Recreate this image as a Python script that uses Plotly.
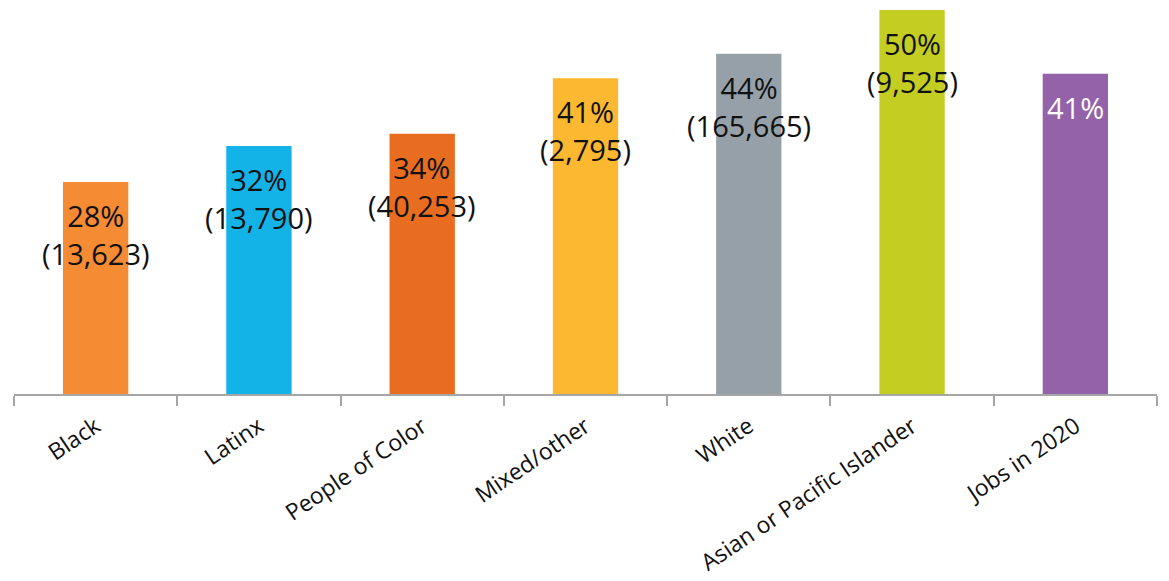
import plotly.graph_objects as go

categories = ["Black", "Latinx", "People of Color", "Mixed/other", "White",
              "Asian or Pacific Islander", "Jobs in 2020"]
values = [27.6, 32.3, 33.9, 41.1, 44.3, 50.0, 41.7]
pct_labels = ["28%", "32%", "34%", "41%", "44%", "50%", "41%"]
count_labels = ["(13,623)", "(13,790)", "(40,253)", "(2,795)", "(165,665)", "(9,525)", ""]
colors = ["#F58B33", "#13B3E8", "#E86D20", "#FBB830", "#96A0A8", "#C3CD22", "#9462A8"]
label_colors = ["#111111"] * 6 + ["#FFFFFF"]

fig = go.Figure(go.Bar(
    x=categories, y=values, marker=dict(color=colors, line=dict(width=0)),
    width=0.4, hoverinfo="skip"))

for c, v, p, n, lc in zip(categories, values, pct_labels, count_labels, label_colors):
    txt = p + ("<br>" + n if n else "")
    fig.add_annotation(x=c, y=v, text=txt, showarrow=False, yanchor="top",
                       yshift=-12, align="center",
                       font=dict(family="Open Sans", size=29, color=lc))

fig.update_layout(
    width=1169, height=581, paper_bgcolor="white", plot_bgcolor="white",
    margin=dict(l=14, r=12, t=0, b=187), showlegend=False,
    xaxis=dict(showline=True, linecolor="#A6A6A6", linewidth=2, automargin=False,
               ticks="outside", tickson="boundaries", ticklen=10,
               tickcolor="#A6A6A6", tickwidth=2, tickangle=-34,
               ticklabelstandoff=8,
               tickfont=dict(family="Open Sans", size=23, color="#111111")),
    yaxis=dict(range=[0, 51.3], visible=False, showgrid=False, automargin=False),
)

fig.write_html("out.html")
